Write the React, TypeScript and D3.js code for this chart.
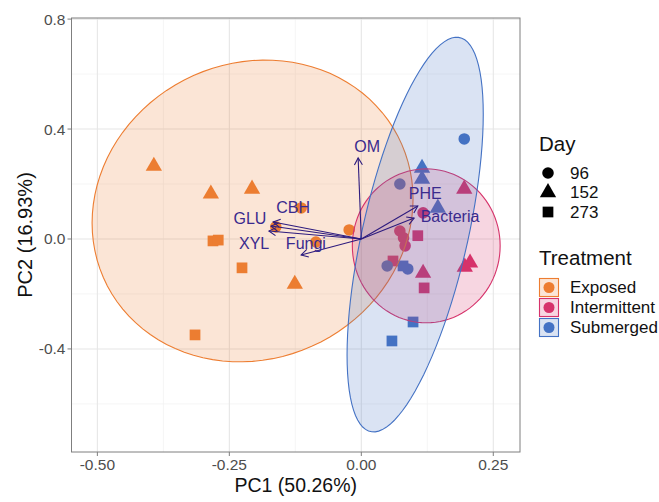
import React from 'react';
import * as d3 from 'd3';

// PCA scores: [treatment, day, PC1, PC2]
const treatments = ['Exposed', 'Intermittent', 'Submerged'];
const treatmentColors = ['#ED7D31', '#D6336B', '#4472C4'];
const days = ['96', '152', '273'];

const samples: [string, string, number, number][] = [
  ['Exposed', '96', -0.162, 0.044],
  ['Exposed', '96', -0.114, 0.113],
  ['Exposed', '96', -0.086, -0.011],
  ['Exposed', '96', -0.023, 0.033],
  ['Exposed', '152', -0.393, 0.265],
  ['Exposed', '152', -0.285, 0.164],
  ['Exposed', '152', -0.207, 0.182],
  ['Exposed', '152', -0.126, -0.164],
  ['Exposed', '273', -0.281, -0.007],
  ['Exposed', '273', -0.271, -0.004],
  ['Exposed', '273', -0.226, -0.105],
  ['Exposed', '273', -0.315, -0.349],
  ['Intermittent', '96', 0.073, 0.029],
  ['Intermittent', '96', 0.080, 0.004],
  ['Intermittent', '96', 0.083, -0.025],
  ['Intermittent', '96', 0.117, 0.095],
  ['Intermittent', '152', 0.195, 0.182],
  ['Intermittent', '152', 0.117, -0.124],
  ['Intermittent', '152', 0.196, -0.102],
  ['Intermittent', '152', 0.206, -0.087],
  ['Intermittent', '273', 0.107, 0.012],
  ['Intermittent', '273', 0.060, -0.080],
  ['Intermittent', '273', 0.119, -0.178],
  ['Submerged', '96', 0.195, 0.364],
  ['Submerged', '96', 0.073, 0.200],
  ['Submerged', '96', 0.049, -0.098],
  ['Submerged', '96', 0.088, -0.109],
  ['Submerged', '152', 0.115, 0.258],
  ['Submerged', '152', 0.115, 0.218],
  ['Submerged', '152', 0.145, 0.113],
  ['Submerged', '273', 0.079, -0.098],
  ['Submerged', '273', 0.098, -0.302],
  ['Submerged', '273', 0.058, -0.371],
];

// ellipse per treatment: centre, half-extent on each axis, correlation
const ellipseCenter = [[-0.206, 0.102], [0.123, -0.025], [0.102, 0.016]];
const ellipseHalf = [[0.304, 0.549], [0.140, 0.280], [0.129, 0.718]];
const ellipseRho = [0.08, 0.0, 0.61];

// variable loadings and their label positions
const loadingNames = ['OM', 'PHE', 'Bacteria', 'CBH', 'GLU', 'XYL', 'Fungi'];
const loadingPC1 = [-0.006, 0.107, 0.100, -0.167, -0.171, -0.175, -0.114];
const loadingPC2 = [0.295, 0.120, 0.076, 0.062, 0.047, 0.029, -0.058];
const labelPC1 = [0.011, 0.121, 0.168, -0.129, -0.211, -0.203, -0.105];
const labelPC2 = [0.335, 0.164, 0.080, 0.113, 0.076, -0.015, -0.015];

const xTicks = [-0.5, -0.25, 0, 0.25];
const xMinor = [-0.375, -0.125, 0.125];
const yTicks = [-0.4, 0, 0.4, 0.8];
const yMinor = [-0.6, -0.2, 0.2, 0.6];

const W = 659;
const H = 502;
const left = 71.5;
const right = 520;
const top = 18;
const bottom = 452;

const symbolFor: Record<string, d3.SymbolType> = {
  '96': d3.symbolCircle,
  '152': d3.symbolTriangle,
  '273': d3.symbolSquare,
};
const sizeFor: Record<string, number> = { '96': 105, '152': 115, '273': 115 };

const hyphen = (s: string) => s.replace('\u2212', '-');

export default function App() {
  const x = d3.scaleLinear().domain([-0.549, 0.3006]).range([left, right]);
  const y = d3.scaleLinear().domain([-0.775, 0.804]).range([bottom, top]);
  const color = d3.scaleOrdinal<string, string>().domain(treatments).range(treatmentColors);

  const ellipsePath = (i: number) => {
    const [cx, cy] = ellipseCenter[i];
    const [rx, ry] = ellipseHalf[i];
    const rho = ellipseRho[i];
    const pts: [number, number][] = d3.range(0, 101).map(k => {
      const t = (k / 100) * 2 * Math.PI;
      const dx = rx * Math.cos(t);
      const dy = ry * (rho * Math.cos(t) + Math.sqrt(1 - rho * rho) * Math.sin(t));
      return [x(cx + dx), y(cy + dy)];
    });
    return d3.line().curve(d3.curveLinearClosed)(pts) || '';
  };

  const arrowColor = '#2D1B7E';
  const arrowHead = (x0: number, y0: number, x1: number, y1: number) => {
    const ang = Math.atan2(y1 - y0, x1 - x0);
    const len = 8;
    const a1 = ang + Math.PI - Math.PI / 6;
    const a2 = ang + Math.PI + Math.PI / 6;
    return `M${x1 + len * Math.cos(a1)},${y1 + len * Math.sin(a1)}L${x1},${y1}L${x1 + len * Math.cos(a2)},${y1 + len * Math.sin(a2)}`;
  };

  const font = 'Liberation Sans, Arial, sans-serif';

  return (
    <svg width={W} height={H} style={{ position: 'absolute', left: 0, top: 0, fontFamily: font }}>
      <rect x={0} y={0} width={W} height={H} fill="#fff" />
      {/* grid */}
      {xMinor.map(v => (
        <line key={'xm' + v} x1={x(v)} x2={x(v)} y1={top} y2={bottom} stroke="#F3F3F3" strokeWidth={0.8} />
      ))}
      {yMinor.map(v => (
        <line key={'ym' + v} x1={left} x2={right} y1={y(v)} y2={y(v)} stroke="#F3F3F3" strokeWidth={0.8} />
      ))}
      {xTicks.map(v => (
        <line key={'xg' + v} x1={x(v)} x2={x(v)} y1={top} y2={bottom} stroke="#E6E6E6" strokeWidth={1.1} />
      ))}
      {yTicks.map(v => (
        <line key={'yg' + v} x1={left} x2={right} y1={y(v)} y2={y(v)} stroke="#E6E6E6" strokeWidth={1.1} />
      ))}

      {/* points */}
      {samples.map((s, i) => (
        <path
          key={'p' + i}
          d={d3.symbol().type(symbolFor[s[1]]).size(sizeFor[s[1]])() || ''}
          transform={`translate(${x(s[2])},${y(s[3])})`}
          fill={color(s[0])}
        />
      ))}

      {/* ellipses */}
      {treatments.map((t, i) => (
        <path
          key={'e' + t}
          d={ellipsePath(i)}
          fill={color(t)}
          fillOpacity={0.2}
          stroke={color(t)}
          strokeWidth={1.1}
        />
      ))}

      {/* loadings */}
      {loadingNames.map((n, i) => {
        const x0 = x(0);
        const y0 = y(0);
        const x1 = x(loadingPC1[i]);
        const y1 = y(loadingPC2[i]);
        return (
          <g key={'l' + n}>
            <line x1={x0} y1={y0} x2={x1} y2={y1} stroke={arrowColor} strokeWidth={1.1} />
            <path d={arrowHead(x0, y0, x1, y1)} fill="none" stroke={arrowColor} strokeWidth={1.1} />
          </g>
        );
      })}
      {loadingNames.map((n, i) => (
        <text
          key={'lt' + n}
          x={x(labelPC1[i])}
          y={y(labelPC2[i])}
          textAnchor="middle"
          dominantBaseline="central"
          fontSize={16}
          fill="#3A2A8E"
        >
          {n}
        </text>
      ))}

      {/* panel border */}
      <rect x={left} y={top} width={right - left} height={bottom - top} fill="none" stroke="#7F7F7F" strokeWidth={1} />

      {/* axes ticks */}
      {xTicks.map(v => (
        <g key={'xt' + v}>
          <line x1={x(v)} x2={x(v)} y1={bottom} y2={bottom + 4} stroke="#7F7F7F" />
          <text x={x(v)} y={bottom + 18} textAnchor="middle" fontSize={15.5} fill="#4D4D4D">
            {hyphen(d3.format('.2f')(v))}
          </text>
        </g>
      ))}
      {yTicks.map(v => (
        <g key={'yt' + v}>
          <line x1={left - 4} x2={left} y1={y(v)} y2={y(v)} stroke="#7F7F7F" />
          <text x={left - 6} y={y(v)} textAnchor="end" dominantBaseline="central" fontSize={15.5} fill="#4D4D4D">
            {hyphen(d3.format('.1f')(v))}
          </text>
        </g>
      ))}

      <text x={(left + right) / 2} y={492} textAnchor="middle" fontSize={19.5} fill="#111">
        PC1 (50.26%)
      </text>
      <text
        transform={`translate(31.5,${(top + bottom) / 2}) rotate(-90)`}
        textAnchor="middle"
        fontSize={20}
        fill="#111"
      >
        PC2 (16.93%)
      </text>

      {/* legend: Day */}
      <text x={539} y={151} fontSize={20.5} fill="#111">Day</text>
      {days.map((d, i) => (
        <g key={'ld' + d} transform={`translate(0,${i * 19.5})`}>
          <path
            d={d3.symbol().type(symbolFor[d]).size(sizeFor[d])() || ''}
            transform={`translate(548,${173})`}
            fill="#000"
          />
          <text x={570} y={173} dominantBaseline="central" fontSize={17} fill="#111">
            {d}
          </text>
        </g>
      ))}

      {/* legend: Treatment */}
      <text x={539} y={265} fontSize={20.5} fill="#111">Treatment</text>
      {treatments.map((t, i) => (
        <g key={'lt2' + t} transform={`translate(0,${i * 20})`}>
          <rect x={539.5} y={278.5} width={19} height={18} fill={color(t)} fillOpacity={0.2} stroke={color(t)} strokeWidth={1.1} />
          <circle cx={549} cy={287.5} r={5.5} fill={color(t)} />
          <text x={570} y={287.5} dominantBaseline="central" fontSize={17} fill="#111">
            {t}
          </text>
        </g>
      ))}
    </svg>
  );
}
